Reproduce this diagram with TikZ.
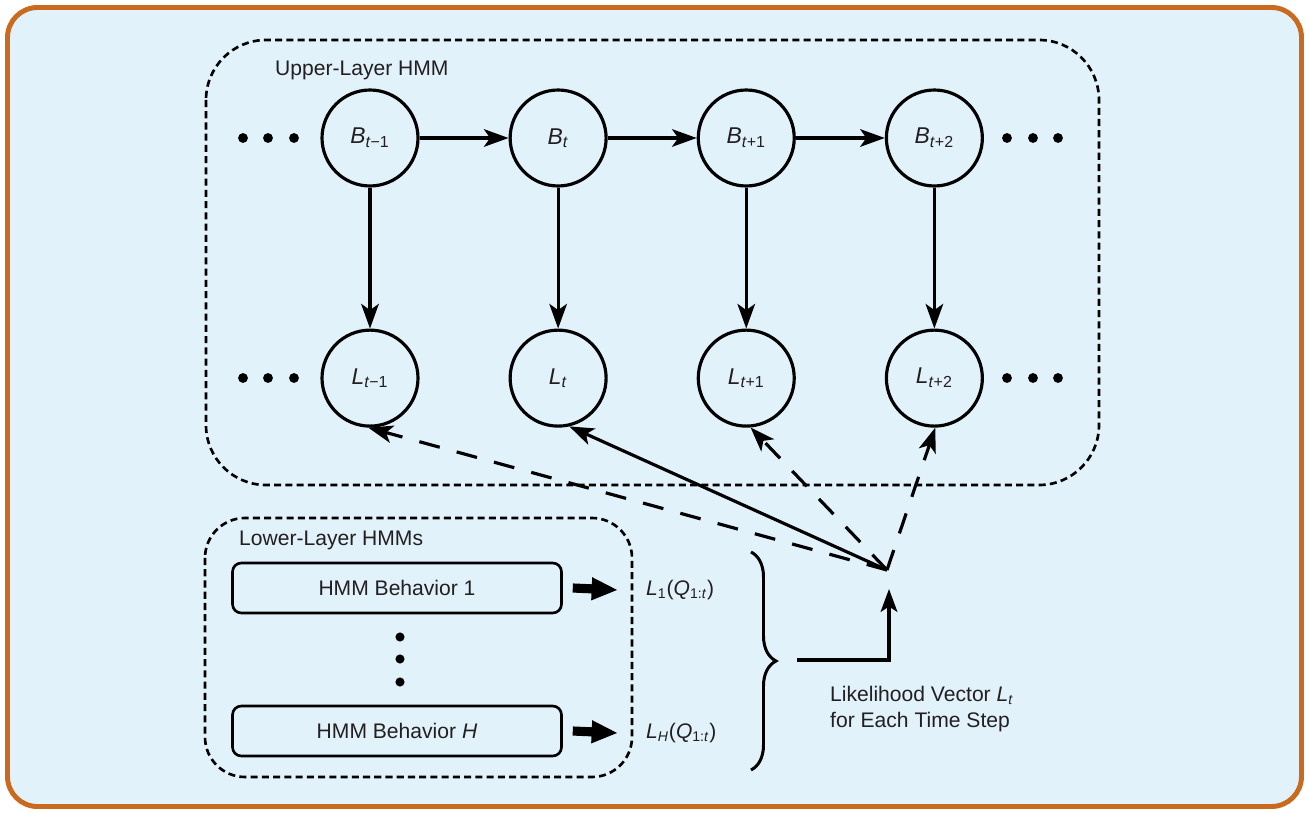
\documentclass[tikz,border=0pt]{standalone}
\usepackage{fontspec}
\setmainfont{Liberation Sans}
\usetikzlibrary{positioning,arrows.meta,decorations.pathreplacing}

\definecolor{panelblue}{HTML}{E1F2FA}
\definecolor{frameorange}{HTML}{C96A1E}
\definecolor{inkgray}{HTML}{231F20}

\newcommand{\vsub}[2]{\textit{#1}\textsubscript{#2}}

\tikzset{
  hid/.style={circle, draw, line width=1.8pt, minimum size=1.92cm, inner sep=0pt, font=\fontsize{13}{15}\selectfont},
  behav/.style={draw, rounded corners=5pt, line width=1.5pt, minimum width=6.58cm, minimum height=1cm},
  layer/.style={draw, dash pattern=on 4pt off 2.4pt, line width=1.5pt},
  link/.style={line width=1.8pt, -{Stealth[length=14pt,width=10pt,inset=3.5pt]}},
  weak/.style={link, dash pattern=on 12pt off 10pt},
  fat/.style={line width=5.2pt, -{Triangle[length=15pt,width=12pt]}},
}

\begin{document}
\begin{tikzpicture}[x=0.02cm, y=-0.02cm, font=\fontsize{12}{15}\selectfont, text=inkgray]
  \useasboundingbox (0,0) rectangle (1309,814);
  % Frame
  \draw[frameorange, fill=panelblue, line width=2.8pt, rounded corners=0.6cm] (7.5,7.5) rectangle (1301.5,806.5);

  % Layers
  \draw[layer, rounded corners=1.2cm] (206,40) rectangle (1099,485);
  \draw[layer, rounded corners=0.8cm] (205,518) rectangle (632,777);
  \node[anchor=base west] (upper) at (269,76) {Upper-Layer HMM};
  \node[anchor=base west] (lower) at (233,545) {Lower-Layer HMMs};

  % Define nodes
  \node[hid]                     (Bm)  at (370,138) {\vsub{B}{\textit{t}−1}};
  \node[hid, right=1.78cm of Bm] (Bt)  {\vsub{B}{\textit{t}}};
  \node[hid, right=1.78cm of Bt] (Bp)  {\vsub{B}{\textit{t}+1}};
  \node[hid, right=1.78cm of Bp] (Bpp) {\vsub{B}{\textit{t}+2}};
  \node[hid, below=2.82cm of Bm] (Lm)  {\vsub{L}{\textit{t}−1}};
  \node[hid, below=2.82cm of Bt] (Lt)  {\vsub{L}{\textit{t}}};
  \node[hid, below=2.82cm of Bp] (Lp)  {\vsub{L}{\textit{t}+1}};
  \node[hid, below=2.82cm of Bpp] (Lpp) {\vsub{L}{\textit{t}+2}};

  \node[behav] (hmm1) at (397,588) {HMM Behavior 1};
  \node[behav] (hmmH) at (397,731) {HMM Behavior \textit{H}};
  \node[anchor=west] (lk1) at (640,590) {\vsub{L}{1}(\vsub{Q}{1:\textit{t}})};
  \node[anchor=west] (lkH) at (640,733) {\vsub{L}{\textit{H}}(\vsub{Q}{1:\textit{t}})};
  \node[anchor=north west, align=left] (vec) at (824,680)
    {Likelihood Vector \vsub{L}{\textit{t}}\\for Each Time Step};

  \coordinate (O)    at (887,570);
  \coordinate (btop) at (751,552);
  \coordinate (bbot) at (751,770);
  \coordinate (bout) at (797,660);
  \coordinate (vin)  at (889,589);

  % Dots
  \foreach \y in {138,378}
    \foreach \x in {243,268,294,1007,1033,1058}
      \fill (\x,\y) circle (2.8pt);
  \foreach \y in {637,659,682}
    \fill (400,\y) circle (2.6pt);

  % Connect the nodes
  \foreach \a/\b in {Bm/Bt, Bt/Bp, Bp/Bpp, Bm/Lm, Bt/Lt, Bp/Lp, Bpp/Lpp}
    \draw[link] (\a) -- (\b);
  \draw[link] (O) -- (Lt.-77);
  \draw[weak] (O) -- (Lm.-92);
  \draw[weak] (O) -- (Lp.-85);
  \draw[weak] (O) -- (Lpp.-89);

  \draw[fat] ([xshift=0.2cm]hmm1.east) -- ([xshift=-0.44cm]lk1.west);
  \draw[fat] ([xshift=0.2cm]hmmH.east) -- ([xshift=-0.44cm]lkH.west);

  % Brace
  \draw[line width=1.7pt, decorate, decoration={brace, amplitude=0.5cm}] (btop) -- (bbot);
  \draw[link, -{Stealth[length=13pt,width=9.5pt,inset=3pt]}] (bout) -| (vin);
\end{tikzpicture}
\end{document}
